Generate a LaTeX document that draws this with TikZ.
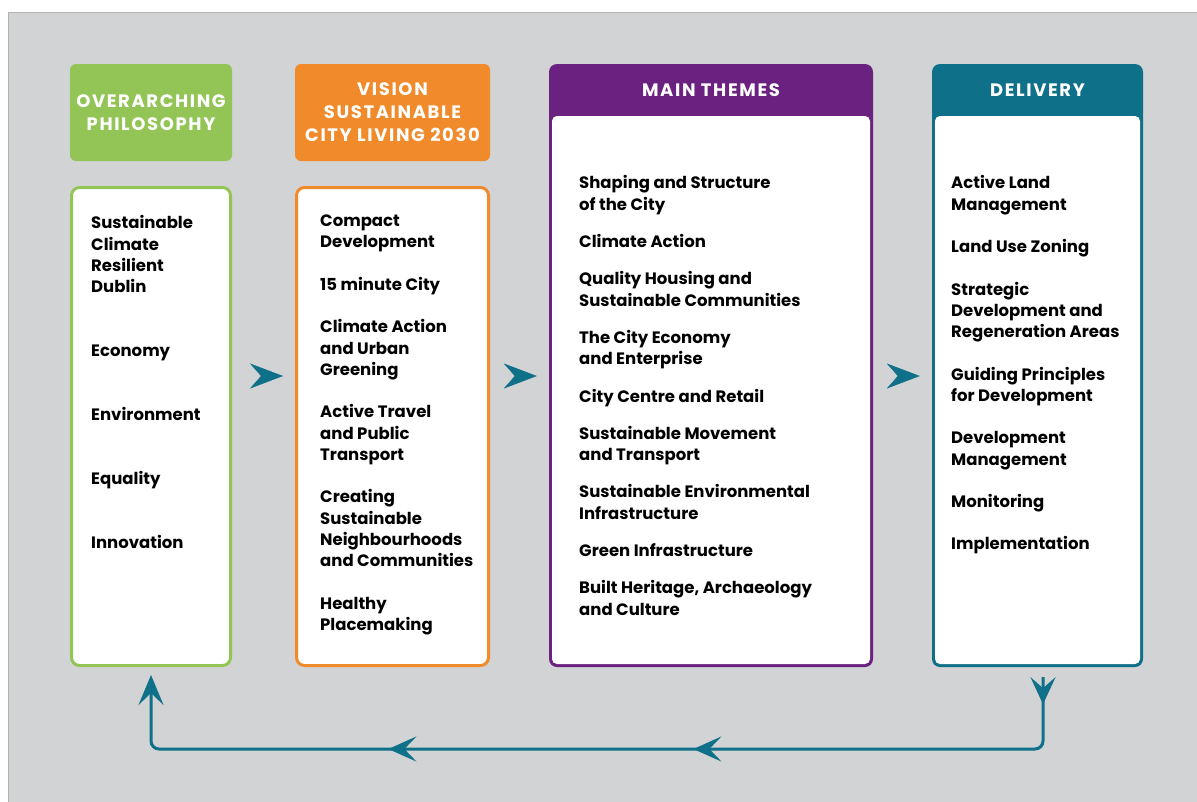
\documentclass[tikz,border=0pt]{standalone}
\usepackage{fontspec}
\setmainfont{Poppins}
\usetikzlibrary{arrows.meta, decorations.markings}

\definecolor{bggray}{HTML}{D1D3D4}
\definecolor{philgreen}{HTML}{93C556}
\definecolor{visorange}{HTML}{F18A2B}
\definecolor{themepurple}{HTML}{6B2180}
\definecolor{delteal}{HTML}{0E7089}

\newcommand{\headfont}{\fontsize{18}{23}\selectfont\bfseries\addfontfeature{LetterSpace=9}}
\tikzstyle{head} = [rectangle, rounded corners=6pt, minimum height=97pt, inner sep=0pt, align=center, text=white, font=\headfont]
\tikzstyle{headtext} = [inner sep=0pt, align=center, text=white, font=\headfont]
\tikzstyle{body} = [rectangle, rounded corners=8pt, line width=3pt, fill=white, minimum height=478pt]
\tikzstyle{frame} = [rectangle, rounded corners=8pt, minimum height=603pt, inner sep=0pt]
\tikzstyle{inner} = [rectangle, rounded corners=5pt, fill=white, minimum height=548pt, inner sep=0pt]
\tikzstyle{items} = [anchor=north west, align=left, inner sep=0pt, font=\fontsize{16.5}{21.3}\selectfont\bfseries]
\tikzstyle{chev} = [delteal, postaction={decorate}, decoration={markings,
    mark=at position -12pt with {\arrow{Stealth[length=33pt, width=25pt, inset=11pt]}}}]
\tikzstyle{back} = [delteal, line width=3pt, rounded corners=8pt, -{Stealth[length=30pt, width=25pt, inset=12pt]},
  postaction={decorate}, decoration={markings,
    mark=at position 27pt with {\arrow{Stealth[length=27pt, width=25pt, inset=11pt]}},
    mark=at position 418pt with {\arrow{Stealth[length=28pt, width=25pt, inset=12pt]}},
    mark=at position 723pt with {\arrow{Stealth[length=28pt, width=25pt, inset=12pt]}}}]

\begin{document}
\begin{tikzpicture}[x=1pt, y=-1pt]
  \useasboundingbox (0,0) rectangle (1197,801);
  \fill[white] (0,0) rectangle (1197,801);
  \filldraw[fill=bggray, draw=black!30, line width=1pt] (8.5,12.5) rectangle (1210,810);

  % overarching philosophy
  \node (PHILH) [head, fill=philgreen, minimum width=162pt] at (151,112.5) {\raisebox{-2pt}{OVERARCHING}\\\raisebox{-2pt}{PHILOSOPHY}};
  \node (PHIL) [body, draw=philgreen, minimum width=159pt] at (151,426.5) {};
  \node (PHILT) [items] at (91,215.5) {Sustainable\\Climate\\Resilient\\Dublin\\[42.5pt]Economy\\[42.5pt]Environment\\[42.5pt]Equality\\[42.5pt]Innovation};

  % vision
  \node (VISH) [head, fill=visorange, minimum width=195pt] at (392.5,112.5) {VISION\\SUSTAINABLE\\CITY LIVING 2030};
  \node (VIS) [body, draw=visorange, minimum width=192pt] at (392.5,426.5) {};
  \node (VIST) [items] at (320,214.5) {Compact\\Development\\[21.2pt]15 minute City\\[21.2pt]Climate Action\\and Urban\\Greening\\[21.2pt]Active Travel\\and Public\\Transport\\[21.2pt]Creating\\Sustainable\\Neighbourhoods\\and Communities\\[21.2pt]Healthy\\Placemaking};

  % main themes
  \node (THEM) [frame, fill=themepurple, minimum width=324pt] at (711,365.5) {};
  \node (THEMIN) [inner, minimum width=318pt] at (711,390) {};
  \node (THEMH) [headtext] at (711,90) {MAIN THEMES};
  \node (THEMT) [items] at (579,175.5) {Shaping and Structure\\of the City\\[16pt]Climate Action\\[16pt]Quality Housing and\\Sustainable Communities\\[16pt]The City Economy\\and Enterprise\\[16pt]City Centre and Retail\\[16pt]Sustainable Movement\\and Transport\\[16pt]Sustainable Environmental\\Infrastructure\\[16pt]Green Infrastructure\\[16pt]Built Heritage, Archaeology\\and Culture};

  % delivery
  \node (DELI) [frame, fill=delteal, minimum width=211pt] at (1037.5,365.5) {};
  \node (DELIIN) [inner, minimum width=205pt] at (1037.5,390) {};
  \node (DELIH) [headtext] at (1037.5,90) {DELIVERY};
  \node (DELIT) [items] at (951,175.5) {Active Land\\Management\\[21.1pt]Land Use Zoning\\[21.1pt]Strategic\\Development and\\Regeneration Areas\\[21.1pt]Guiding Principles\\for Development\\[21.1pt]Development\\Management\\[21.1pt]Monitoring\\[21.1pt]Implementation};

  \coordinate (CHEV) at (0,376);
  \coordinate (LOOP) at (0,749);
  \coordinate (DOUT) at ([xshift=5.5pt, yshift=-10pt]DELI.south);

  \path [chev] (PHIL.east |- CHEV) -- (VIS.west |- CHEV);
  \path [chev] (VIS.east |- CHEV) -- (THEM.west |- CHEV);
  \path [chev] (THEM.east |- CHEV) -- (DELI.west |- CHEV);
  \draw [back] (DOUT) -- (DOUT |- LOOP) -- (PHIL.south |- LOOP) -- ([yshift=-8pt]PHIL.south);
\end{tikzpicture}
\end{document}
